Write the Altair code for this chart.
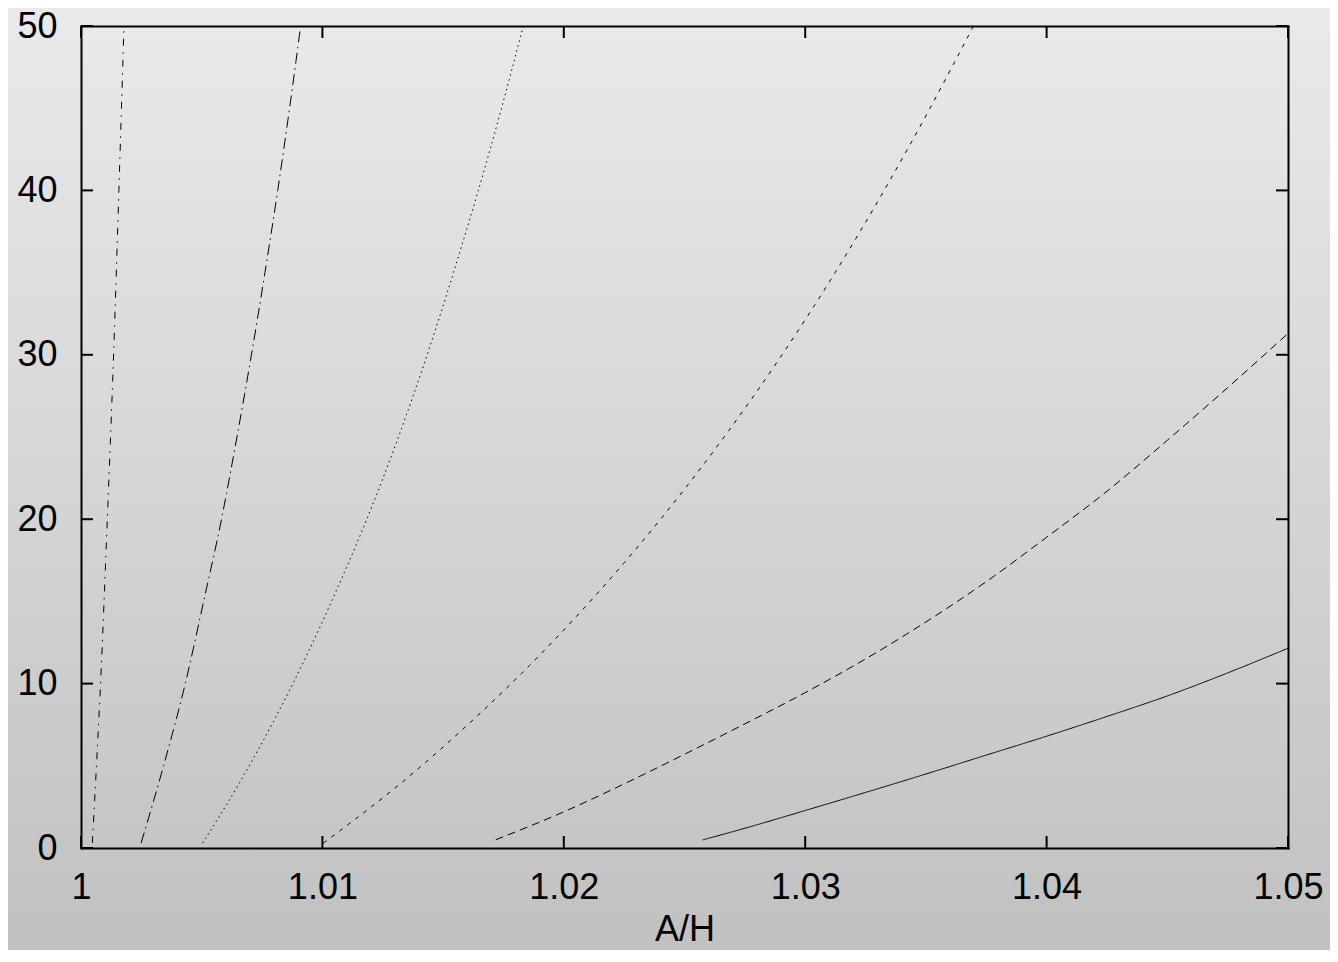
import altair as alt
import pandas as pd

# ---- data ----
x_ticks = [1.00, 1.01, 1.02, 1.03, 1.04, 1.05]
y_ticks = [0, 10, 20, 30, 40, 50]

a_x = [1.00047, 1.00064, 1.00081, 1.00109, 1.00135, 1.00157, 1.00178]
a_y = [0.3, 5, 10, 20, 30, 40, 50]

b_x = [1.00249, 1.00342, 1.00432, 1.00508, 1.00582, 1.00646, 1.00706, 1.00762, 1.00815, 1.00864, 1.00910]
b_y = [0.3, 5, 10, 15, 20, 25, 30, 35, 40, 45, 50]

c_x = [1.00504, 1.00658, 1.00808, 1.00944, 1.01068, 1.01184, 1.01315, 1.01434, 1.01543, 1.01646, 1.01742, 1.01832]
c_y = [0.3, 4, 8, 12, 16, 20, 25, 30, 35, 40, 45, 50]

d_x = [1.01004, 1.01330, 1.01639, 1.01918, 1.02170, 1.02401, 1.02664, 1.02904, 1.03124, 1.03327, 1.03517, 1.03697]
d_y = [0.3, 4, 8, 12, 16, 20, 25, 30, 35, 40, 45, 50]

e_x = [1.01718, 1.0200, 1.0225, 1.0250, 1.0275, 1.0300, 1.0325, 1.0350, 1.0375, 1.0400, 1.0425, 1.0450, 1.0475, 1.0500]
e_y = [0.5, 2.2, 3.9, 5.7, 7.55, 9.45, 11.5, 13.75, 16.2, 18.9, 21.7, 24.8, 28.0, 31.3]

f_x = [1.02575, 1.0275, 1.0300, 1.0325, 1.0350, 1.0375, 1.0400, 1.0425, 1.0450, 1.0475, 1.0500]
f_y = [0.49, 1.2, 2.28, 3.38, 4.5, 5.65, 6.8, 8.0, 9.25, 10.65, 12.15]

series_names = ["a", "b", "c", "d", "e", "f"]
series_dash = [[7, 6, 1.5, 6.5], [11, 4.5, 1.5, 4.5], [1.5, 3.5], [4, 6], [8, 5], [1, 0]]

rows = []
for name, xs, ys in zip(series_names,
                        [a_x, b_x, c_x, d_x, e_x, f_x],
                        [a_y, b_y, c_y, d_y, e_y, f_y]):
    for xv, yv in zip(xs, ys):
        rows.append({"series": name, "x": xv, "y": yv})
lines_df = pd.DataFrame(rows)

W, H = 1207, 822
PAD = {"left": 73, "top": 18, "right": 42, "bottom": 102}
FONT = "Liberation Sans"
FS = 36

xscale = alt.Scale(domain=[1.0, 1.05], nice=False, zero=False)
yscale = alt.Scale(domain=[0, 50], nice=False, zero=False)

grad = alt.LinearGradient(
    gradient="linear",
    stops=[alt.GradientStop(offset=0, color="#eaeaea"),
           alt.GradientStop(offset=1, color="#c1c1c1")],
    x1=0, x2=0, y1=0, y2=1,
)

bg = alt.Chart(pd.DataFrame({"k": [0]})).mark_rect(fill=grad, clip=False).encode(
    x=alt.value(-PAD["left"]), x2=alt.value(W + PAD["right"]),
    y=alt.value(-PAD["top"]), y2=alt.value(H + PAD["bottom"]),
)

xt = pd.DataFrame({"x": x_ticks})
yt = pd.DataFrame({"y": y_ticks})
TL = 12

tick_bottom = alt.Chart(xt).mark_rule(color="black", strokeWidth=2).encode(
    x=alt.X("x:Q", scale=xscale, axis=None),
    y=alt.value(H), y2=alt.value(H - TL),
)
tick_top = alt.Chart(xt).mark_rule(color="black", strokeWidth=2).encode(
    x=alt.X("x:Q", scale=xscale,
            axis=alt.Axis(orient="top", labels=False, ticks=False, tickSize=0, grid=False,
                          domain=True, domainColor="black", domainWidth=2,
                          domainCap="square", title=None, zindex=1)),
    y=alt.value(0), y2=alt.value(TL),
)
tick_left = alt.Chart(yt).mark_rule(color="black", strokeWidth=2).encode(
    y=alt.Y("y:Q", scale=yscale, axis=None),
    x=alt.value(0), x2=alt.value(TL),
)
tick_right = alt.Chart(yt).mark_rule(color="black", strokeWidth=2).encode(
    y=alt.Y("y:Q", scale=yscale,
            axis=alt.Axis(orient="right", labels=False, ticks=False, tickSize=0, grid=False,
                          domain=True, domainColor="black", domainWidth=2,
                          domainCap="square", title=None, zindex=1)),
    x=alt.value(W), x2=alt.value(W - TL),
)

lines = alt.Chart(lines_df).mark_line(strokeWidth=1, color="black", interpolate="monotone").encode(
    x=alt.X("x:Q", scale=xscale,
            axis=alt.Axis(orient="bottom", values=x_ticks, format="~g", title="A/H",
                          labelFlush=False, ticks=False, tickSize=0, grid=False,
                          domain=True, domainColor="black", domainWidth=2, domainCap="square",
                          labelFont=FONT, labelFontSize=FS, labelColor="black", labelPadding=22,
                          titleFont=FONT, titleFontSize=FS, titleFontWeight="normal",
                          titleColor="black", titlePadding=7, zindex=1)),
    y=alt.Y("y:Q", scale=yscale,
            axis=alt.Axis(orient="left", values=y_ticks, format="d", title=None,
                          ticks=False, tickSize=0, grid=False,
                          domain=True, domainColor="black", domainWidth=2, domainCap="square",
                          labelFont=FONT, labelFontSize=FS, labelColor="black", labelPadding=24,
                          zindex=1)),
    strokeDash=alt.StrokeDash("series:N",
                              scale=alt.Scale(domain=series_names, range=series_dash),
                              legend=None),
    detail="series:N",
)

chart = alt.layer(bg, tick_bottom, tick_top, tick_left, tick_right, lines).resolve_axis(
    x="independent", y="independent"
).properties(
    width=W, height=H, padding=PAD,
    autosize=alt.AutoSizeParams(type="none"),
    background="#eaeaea",
).configure_view(stroke="transparent")

chart.save("out.html", embed_options={"renderer": "svg", "actions": False})
